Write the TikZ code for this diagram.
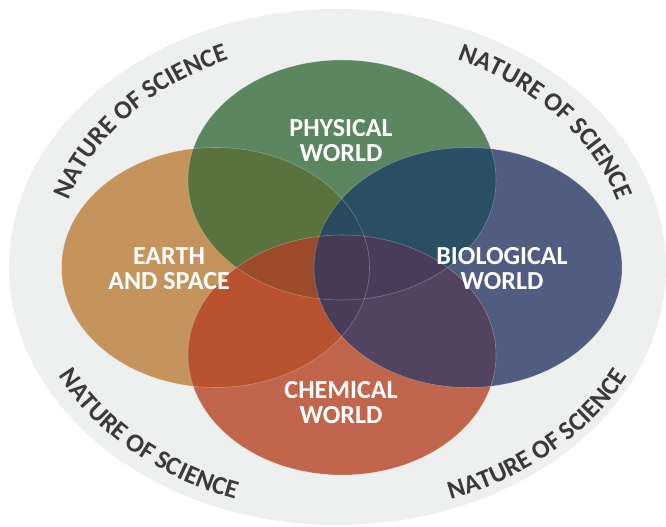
\documentclass[tikz,border=0pt]{standalone}
\usepackage{fontspec}
\usetikzlibrary{decorations.text}
\newfontfamily\calibfont{Carlito}

\definecolor{ringgray}{HTML}{EEF0EF}
\definecolor{natgray}{HTML}{3A3A3A}
\definecolor{cGreen}{HTML}{5B8660}
\definecolor{cTan}{HTML}{C4945C}
\definecolor{cBlue}{HTML}{505C80}
\definecolor{cRed}{HTML}{C2654D}
\definecolor{cGT}{HTML}{58733E}
\definecolor{cGB}{HTML}{2A4E64}
\definecolor{cTR}{HTML}{B9532F}
\definecolor{cBR}{HTML}{52435F}
\definecolor{cGTR}{HTML}{9B4B2A}
\definecolor{cGTB}{HTML}{2A4A5E}
\definecolor{cGBR}{HTML}{473D58}
\definecolor{cTBR}{HTML}{483C57}
\definecolor{cAll}{HTML}{463A55}

% the four circles of the diagram
\newcommand\vennG{(cG) ellipse [x radius=154, y radius=120]}
\newcommand\vennT{(cT) ellipse [x radius=154, y radius=120]}
\newcommand\vennB{(cB) ellipse [x radius=154, y radius=120]}
\newcommand\vennR{(cR) ellipse [x radius=154, y radius=120]}
\newcommand\natfont{\fontsize{19.5}{19.5}\selectfont\calibfont\bfseries\color{natgray}}

\tikzset{
  worldlabel/.style={text=white, align=center, inner sep=0pt,
    font=\fontsize{19.5}{18.8}\selectfont\calibfont\bfseries},
  rimtext/.style={decorate, decoration={text along path,
    text={|\natfont|NATURE OF SCIENCE}, text align=center}},
  seam/.style={draw=white, draw opacity=0.3, line width=0.4pt}
}

\begin{document}
\begin{tikzpicture}[x=0.75pt, y=0.75pt]
\useasboundingbox (0,0) rectangle (666,527);

\coordinate (cO) at (337.5,260);
\coordinate (cX) at (343,260);
\coordinate (cG) at (342,347);
\coordinate (cT) at (215.5,259.5);
\coordinate (cB) at (468,259.5);
\coordinate (cR) at (342,172);

% outer ring
\fill[ringgray] (cO) ellipse [x radius=328.5, y radius=258];

% single circles
\fill[cTan] \vennT;
\fill[cGreen] \vennG;
\fill[cBlue] \vennB;
\fill[cRed] \vennR;

% pairwise overlaps
\begin{scope}\clip \vennG; \fill[cGT] \vennT; \fill[cGB] \vennB; \end{scope}
\begin{scope}\clip \vennR; \fill[cTR] \vennT; \fill[cBR] \vennB; \end{scope}

% triple overlaps
\begin{scope}\clip \vennG; \clip \vennT; \fill[cGTR] \vennR; \fill[cGTB] \vennB; \end{scope}
\begin{scope}\clip \vennG; \clip \vennB; \fill[cGBR] \vennR; \end{scope}
\begin{scope}\clip \vennT; \clip \vennB; \fill[cTBR] \vennR; \end{scope}

% centre, where all four meet
\begin{scope}\clip \vennG; \clip \vennT; \clip \vennB; \fill[cAll] \vennR; \end{scope}

% faint seams along the circle edges
\path[seam] \vennG;
\path[seam] \vennT;
\path[seam] \vennB;
\path[seam] \vennR;

% circle labels
\node[worldlabel] (phys) at (341,386) {PHYSICAL\\WORLD};
\node[worldlabel] (earth) at (169,258.5) {EARTH\\AND SPACE};
\node[worldlabel] (bio) at (502,258.5) {BIOLOGICAL\\WORLD};
\node[worldlabel] (chem) at (341,124.5) {CHEMICAL\\WORLD};

% curved text round the ring
\path[rimtext] (cX) ++(191:287 and 226) arc [start angle=191, end angle=91, x radius=287, y radius=226];
\path[rimtext] (cX) ++(89:287 and 226) arc [start angle=89, end angle=-11, x radius=287, y radius=226];
\path[rimtext] (cX) ++(175:317 and 247) arc [start angle=175, end angle=275, x radius=317, y radius=247];
\path[rimtext] (cX) ++(265:317 and 247) arc [start angle=265, end angle=365, x radius=317, y radius=247];
\end{tikzpicture}
\end{document}
